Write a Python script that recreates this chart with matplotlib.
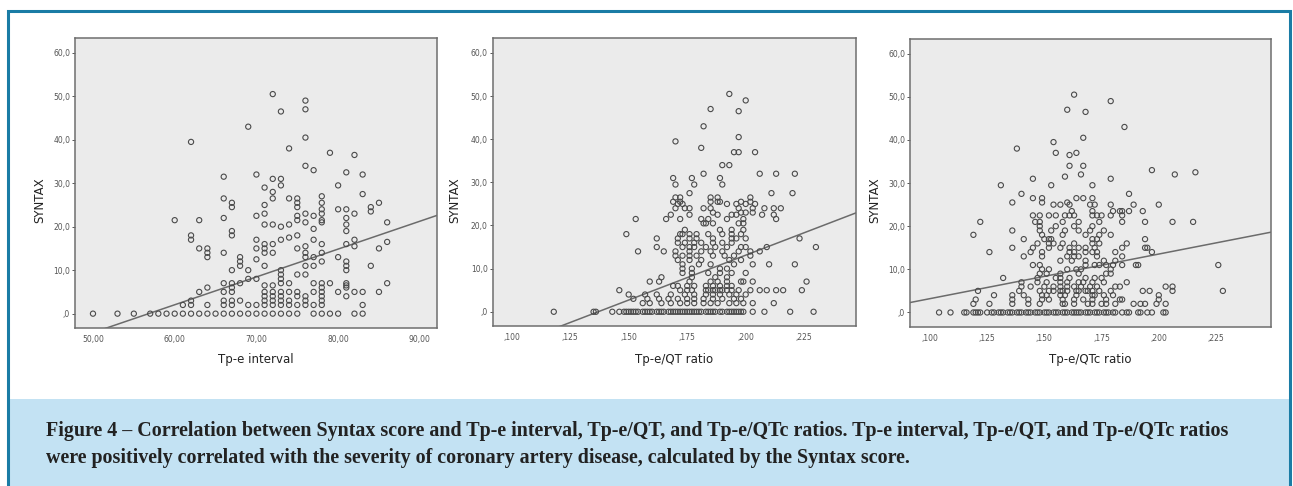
import numpy as np
import matplotlib
matplotlib.use('Agg')
import matplotlib.pyplot as plt
from matplotlib.patches import Rectangle

# ---- data: rows of (SYNTAX, [x values]) ----
tpe_rows = [
    (0, [50, 53, 55, 57, 58, 59, 60, 61, 62, 63, 64, 65, 66, 67, 68, 69, 70,
         71, 72, 73, 74, 75, 77, 78, 79, 80, 82, 83]),
    (2, [61, 62, 64, 66, 67, 69, 70, 71, 72, 73, 74, 75, 76, 77, 78, 83]),
    (3, [62, 66, 67, 68, 71, 72, 73, 74, 76, 78]),
    (4, [71, 72, 73, 75, 76, 78, 81]),
    (5, [63, 66, 67, 71, 72, 73, 74, 75, 77, 78, 80, 82, 83, 85]),
    (6, [64, 67, 78, 81]),
    (6.5, [71, 72, 81]),
    (7, [66, 67, 68, 73, 74, 77, 78, 79, 81, 86]),
    (8, [69, 70, 73]),
    (9, [73, 75, 76]),
    (10, [67, 69, 73, 81]),
    (11, [68, 71, 76, 77, 81, 84]),
    (12, [68, 78, 81]),
    (12.5, [70]),
    (13, [64, 68, 76, 77, 80]),
    (14, [64, 66, 71, 72, 76, 78]),
    (15, [63, 64, 70, 71, 75, 85]),
    (15.5, [76, 82]),
    (16, [71, 72, 78, 81]),
    (16.5, [86]),
    (17, [62, 70, 73, 77, 82]),
    (17.5, [74]),
    (18, [62, 67, 75]),
    (19, [67, 81]),
    (19.5, [77]),
    (20, [73]),
    (20.5, [71, 72, 74, 81]),
    (21, [76, 78, 86]),
    (21.5, [60, 63, 75, 78]),
    (22, [66, 81]),
    (22.5, [70, 75, 77]),
    (23, [71, 76, 78, 82]),
    (23.5, [84]),
    (24, [78, 80, 81]),
    (24.5, [67, 75, 84]),
    (25, [71]),
    (25.5, [67, 75, 78, 85]),
    (26.5, [66, 72, 74, 75]),
    (27, [78]),
    (27.5, [83]),
    (28, [72]),
    (29, [71]),
    (29.5, [73, 80]),
    (31, [72, 73]),
    (31.5, [66]),
    (32, [70, 83]),
    (32.5, [81]),
    (33, [77]),
    (34, [76]),
    (36.5, [82]),
    (37, [79]),
    (38, [74]),
    (39.5, [62]),
    (40.5, [76]),
    (43, [69]),
    (46.5, [73]),
    (47, [76]),
    (49, [76]),
    (50.5, [72]),
]

qt_rows = [
    (0, [0.118, 0.135, 0.136, 0.143, 0.146, 0.148, 0.149, 0.150, 0.151, 0.152,
         0.153, 0.154, 0.156, 0.157, 0.158, 0.159, 0.160, 0.162, 0.163, 0.164,
         0.165, 0.167, 0.168, 0.169, 0.170, 0.171, 0.172, 0.173, 0.174, 0.175,
         0.176, 0.177, 0.178, 0.179, 0.180, 0.181, 0.183, 0.184, 0.185, 0.186,
         0.187, 0.189, 0.190, 0.192, 0.193, 0.194, 0.195, 0.196, 0.197, 0.198,
         0.199, 0.203, 0.208, 0.219, 0.229]),
    (2, [0.156, 0.159, 0.164, 0.168, 0.172, 0.175, 0.178, 0.182, 0.185, 0.188,
         0.193, 0.196, 0.199, 0.203, 0.212]),
    (3, [0.152, 0.158, 0.163, 0.167, 0.171, 0.175, 0.178, 0.182, 0.186, 0.190,
         0.195, 0.198]),
    (4, [0.150, 0.157, 0.162, 0.168, 0.174, 0.178, 0.183, 0.186, 0.189, 0.193,
         0.196, 0.200]),
    (5, [0.146, 0.172, 0.175, 0.177, 0.183, 0.184, 0.186, 0.187, 0.189, 0.190,
         0.192, 0.194, 0.197, 0.202, 0.206, 0.209, 0.213, 0.216, 0.224]),
    (6, [0.169, 0.171, 0.175, 0.178, 0.183, 0.186, 0.189, 0.192, 0.194]),
    (7, [0.159, 0.163, 0.176, 0.185, 0.188, 0.192, 0.198, 0.199, 0.203, 0.226]),
    (8, [0.164, 0.177, 0.187, 0.192]),
    (9, [0.173, 0.177, 0.184, 0.189, 0.194, 0.200]),
    (10, [0.173, 0.177, 0.189, 0.192]),
    (11, [0.173, 0.180, 0.185, 0.195, 0.203, 0.210, 0.221]),
    (12, [0.171, 0.176, 0.181, 0.193, 0.198]),
    (13, [0.170, 0.173, 0.176, 0.179, 0.186, 0.191, 0.195, 0.202]),
    (14, [0.154, 0.165, 0.170, 0.176, 0.181, 0.185, 0.190, 0.197, 0.202, 0.206]),
    (15, [0.162, 0.173, 0.176, 0.178, 0.183, 0.187, 0.192, 0.198, 0.200, 0.209,
          0.230]),
    (16, [0.171, 0.174, 0.178, 0.181, 0.186, 0.190, 0.194]),
    (17, [0.162, 0.171, 0.176, 0.179, 0.186, 0.194, 0.196, 0.200, 0.223]),
    (18, [0.149, 0.172, 0.173, 0.176, 0.179, 0.184, 0.190, 0.194, 0.198]),
    (19, [0.174, 0.189, 0.194, 0.199]),
    (20.5, [0.182, 0.183, 0.186, 0.197, 0.199]),
    (21.5, [0.153, 0.166, 0.172, 0.181, 0.184, 0.192, 0.199, 0.213]),
    (22.5, [0.168, 0.176, 0.188, 0.194, 0.196, 0.207, 0.212]),
    (23, [0.186, 0.198, 0.200, 0.203]),
    (24, [0.170, 0.174, 0.176, 0.182, 0.185, 0.197, 0.203, 0.208, 0.212, 0.215]),
    (25, [0.171, 0.173, 0.192, 0.196, 0.200, 0.204]),
    (25.5, [0.169, 0.172, 0.185, 0.188, 0.189, 0.198, 0.202]),
    (26.5, [0.170, 0.172, 0.185, 0.188, 0.202]),
    (27.5, [0.176, 0.211, 0.220]),
    (29.5, [0.170, 0.178, 0.190]),
    (31, [0.169, 0.177, 0.189]),
    (32, [0.182, 0.206, 0.213, 0.221]),
    (34, [0.190, 0.193]),
    (37, [0.195, 0.197, 0.204]),
    (38, [0.181]),
    (39.5, [0.170]),
    (40.5, [0.197]),
    (43, [0.182]),
    (46.5, [0.197]),
    (47, [0.185]),
    (49, [0.200]),
    (50.5, [0.193]),
]

qtc_rows = [
    (0, [0.104, 0.109, 0.115, 0.116, 0.119, 0.120, 0.121, 0.122, 0.125, 0.127,
         0.128, 0.130, 0.131, 0.132, 0.134, 0.135, 0.136, 0.138, 0.139, 0.140,
         0.142, 0.143, 0.144, 0.146, 0.147, 0.148, 0.150, 0.151, 0.152, 0.154,
         0.155, 0.156, 0.158, 0.159, 0.160, 0.162, 0.163, 0.164, 0.165, 0.166,
         0.168, 0.169, 0.170, 0.172, 0.173, 0.174, 0.176, 0.177, 0.178, 0.180,
         0.181, 0.184, 0.186, 0.187, 0.191, 0.192, 0.195, 0.197, 0.202, 0.203]),
    (2, [0.119, 0.126, 0.136, 0.143, 0.148, 0.158, 0.159, 0.163, 0.169, 0.171,
         0.175, 0.177, 0.181, 0.189, 0.192, 0.194, 0.199, 0.203]),
    (3, [0.120, 0.136, 0.143, 0.149, 0.152, 0.158, 0.163, 0.167, 0.171, 0.177,
         0.183, 0.184, 0.200]),
    (4, [0.128, 0.136, 0.141, 0.149, 0.151, 0.157, 0.159, 0.164, 0.171, 0.172,
         0.176, 0.180, 0.200]),
    (5, [0.121, 0.139, 0.148, 0.152, 0.154, 0.157, 0.158, 0.160, 0.164, 0.165,
         0.168, 0.169, 0.171, 0.174, 0.179, 0.193, 0.196, 0.206, 0.228]),
    (6, [0.140, 0.144, 0.150, 0.154, 0.157, 0.160, 0.163, 0.166, 0.170, 0.173,
         0.181, 0.183, 0.203, 0.206]),
    (7, [0.140, 0.147, 0.151, 0.157, 0.160, 0.165, 0.167, 0.171, 0.176, 0.186]),
    (8, [0.132, 0.147, 0.155, 0.157, 0.161, 0.168, 0.172, 0.175]),
    (9, [0.148, 0.151, 0.157, 0.165, 0.177, 0.179]),
    (10, [0.149, 0.152, 0.160, 0.164, 0.166, 0.179]),
    (11, [0.145, 0.148, 0.168, 0.172, 0.174, 0.177, 0.180, 0.184, 0.190, 0.191,
          0.226]),
    (12, [0.157, 0.162, 0.168, 0.176, 0.181]),
    (13, [0.141, 0.149, 0.160, 0.163, 0.165, 0.173, 0.184]),
    (14, [0.126, 0.144, 0.149, 0.161, 0.163, 0.168, 0.171, 0.173, 0.181, 0.197]),
    (15, [0.136, 0.145, 0.152, 0.157, 0.161, 0.165, 0.168, 0.172, 0.184, 0.194,
          0.195]),
    (16, [0.147, 0.152, 0.154, 0.158, 0.163, 0.171, 0.174, 0.186]),
    (17, [0.141, 0.150, 0.152, 0.153, 0.171, 0.173, 0.194]),
    (18, [0.119, 0.149, 0.158, 0.168, 0.174, 0.179]),
    (19, [0.136, 0.148, 0.153, 0.159, 0.165, 0.170, 0.176]),
    (20, [0.148, 0.155, 0.163, 0.171]),
    (21, [0.122, 0.146, 0.148, 0.158, 0.165, 0.174, 0.184, 0.194, 0.206, 0.215]),
    (22.5, [0.145, 0.148, 0.152, 0.155, 0.159, 0.161, 0.163, 0.171, 0.173, 0.175,
            0.179, 0.184]),
    (23.5, [0.162, 0.171, 0.180, 0.183, 0.184, 0.187, 0.193]),
    (25, [0.154, 0.157, 0.161, 0.170, 0.172, 0.179, 0.189, 0.200]),
    (25.5, [0.136, 0.149, 0.160]),
    (26.5, [0.145, 0.149, 0.164, 0.167, 0.171]),
    (27.5, [0.140, 0.187]),
    (29.5, [0.131, 0.153, 0.171]),
    (31, [0.145, 0.179]),
    (31.5, [0.159]),
    (32, [0.166, 0.207]),
    (32.5, [0.216]),
    (33, [0.197]),
    (34, [0.161, 0.167]),
    (36.5, [0.161]),
    (37, [0.155, 0.164]),
    (38, [0.138]),
    (39.5, [0.154]),
    (40.5, [0.167]),
    (43, [0.185]),
    (46.5, [0.168]),
    (47, [0.160]),
    (49, [0.179]),
    (50.5, [0.163]),
]

# fitted lines (two points read at the plot edges)
tpe_fit = ([51.5, 92.1], [-3.4, 22.6])
qt_fit = ([0.1206, 0.247], [-3.4, 22.9])
qtc_fit = ([0.0913, 0.2489], [2.3, 18.6])

y_ticks = [0, 10, 20, 30, 40, 50, 60]
y_labels = [',0', '10,0', '20,0', '30,0', '40,0', '50,0', '60,0']
tpe_ticks = [50, 60, 70, 80, 90]
tpe_labels = ['50,00', '60,00', '70,00', '80,00', '90,00']
ratio_ticks = [0.100, 0.125, 0.150, 0.175, 0.200, 0.225]
ratio_labels = [',100', ',125', ',150', ',175', ',200', ',225']

caption_1 = ("Figure 4 \u2013 Correlation between Syntax score and Tp-e interval, "
             "Tp-e/QT, and Tp-e/QTc ratios. Tp-e interval, Tp-e/QT, and Tp-e/QTc ratios")
caption_2 = ("were positively correlated with the severity of coronary artery disease, "
             "calculated by the Syntax score.")


def flatten(rows):
    xs, ys = [], []
    for yv, xl in rows:
        xs += xl
        ys += [yv] * len(xl)
    return np.array(xs), np.array(ys)


W, H = 1293, 486
fig = plt.figure(figsize=(W / 100, H / 100), dpi=100)
fig.patch.set_facecolor('white')

# outer frame and caption box
fig.patches.append(Rectangle((8 / W, 0), 1282 / W, 1 - 399 / H,
                             transform=fig.transFigure, fc='#c3e2f3',
                             ec='none', zorder=0))
fig.patches.append(Rectangle((8 / W, -0.01), 1282 / W, 1.01 - 11 / H,
                             transform=fig.transFigure, fc='none',
                             ec='#1a7ca5', lw=2.2, zorder=1))

panels = [
    (tpe_rows, tpe_fit, [75, 437, 38, 328], (47.8, 92.1), tpe_ticks,
     tpe_labels, 'Tp-e interval', 40),
    (qt_rows, qt_fit, [492.7, 855.7, 38.3, 326], (0.0919, 0.247),
     ratio_ticks, ratio_labels, 'Tp-e/QT ratio', 455),
    (qtc_rows, qtc_fit, [910, 1270.7, 39, 326.7], (0.0913, 0.2489),
     ratio_ticks, ratio_labels, 'Tp-e/QTc ratio', 875),
]

for rows, fit, box, xlim, xt, xtl, xlab, ylab_x in panels:
    x0, x1, top, bot = box
    ax = fig.add_axes([x0 / W, 1 - bot / H, (x1 - x0) / W, (bot - top) / H])
    ax.set_facecolor('#ebebeb')
    xs, ys = flatten(rows)
    ax.scatter(xs, ys, s=14, facecolors='none', edgecolors='#4a4a4a',
               linewidths=0.8, zorder=3)
    ax.plot(fit[0], fit[1], color='#6b6b6b', lw=1.1, zorder=2)
    ax.set_xlim(*xlim)
    ax.set_ylim(-3.3, 63.4)
    ax.set_yticks(y_ticks)
    ax.set_yticklabels(y_labels)
    ax.set_xticks(xt)
    ax.set_xticklabels(xtl)
    ax.tick_params(axis='y', length=2.5, width=0.7, color='#555555',
                   labelsize=5.5, labelcolor='#555555', pad=1)
    ax.tick_params(axis='x', length=0, labelsize=5.5, labelcolor='#555555',
                   pad=5)
    for sp in ax.spines.values():
        sp.set_color('#6e6e6e')
        sp.set_linewidth(1.1)
    fig.text((x0 + x1) / 2 / W, 1 - 359 / H, xlab, ha='center', va='center',
             fontsize=8.5, color='#222222')
    fig.text(ylab_x / W, 1 - 200 / H, 'SYNTAX', rotation=90, ha='center',
             va='center', fontsize=8.5, color='#222222')

for txt, ypix in [(caption_1, 431), (caption_2, 458)]:
    fig.text(46 / W, 1 - ypix / H, txt, ha='left', va='center',
             fontsize=14.4, fontweight='bold', family='Liberation Serif',
             color='#222222')

fig.savefig('out.png', dpi=100)
